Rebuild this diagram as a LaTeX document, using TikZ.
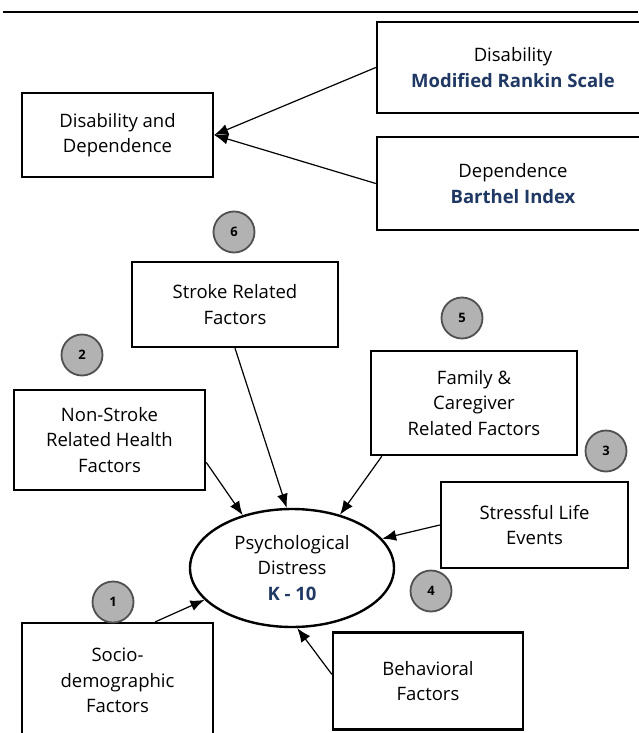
\documentclass[tikz,border=0pt]{standalone}
\usepackage{fontspec}
\setmainfont{Open Sans}
\usetikzlibrary{arrows.meta}
\usetikzlibrary{shapes.geometric}
\definecolor{navy}{RGB}{31,56,100}
\definecolor{badgegray}{RGB}{178,178,178}
\definecolor{badgeline}{RGB}{80,80,80}
\newcommand{\scl}[1]{\textcolor{navy}{\bfseries #1}}

\begin{document}
\begin{tikzpicture}[x=1pt,y=-1pt,
        font=\fontsize{18.5}{25.5}\selectfont,
        box/.style = {draw,line width=2.4pt,fill=white,align=center,
            inner sep=0pt},
        badge/.style = {circle,draw=badgeline,line width=1.8pt,fill=badgegray,
            minimum size=41pt,inner sep=0pt,font=\fontsize{13}{13}\selectfont\bfseries},
        arr/.style = {-{Latex[length=14pt,width=11pt]},line width=1.2pt}]
    \useasboundingbox (0,0) rectangle (638,733);
    \draw[line width=1.5pt] (3,12) -- (638,12);
    % top part
    \node[box,minimum width=272pt,minimum height=91pt](dis) at (513,67.5)
        {Disability\\ \scl{Modified Rankin Scale}};
    \node[box,minimum width=272pt,minimum height=93pt](dep) at (513,183.5)
        {Dependence\\ \scl{Barthel Index}};
    \node[box,minimum width=191pt,minimum height=84pt](dd) at (117.5,135)
        {Disability and\\ Dependence};
    \path[arr]
        (dis.west) edge (dd.east)
        (dep.west) edge (dd.east);
    % factors
    \node[box,ellipse,minimum width=204pt,minimum height=118pt](psy) at (292,568)
        {Psychological\\ Distress\\ \scl{K - 10}};
    \node[box,minimum width=206pt,minimum height=85pt](srf) at (235,304.5)
        {Stroke Related\\ Factors};
    \node[box,minimum width=191pt,minimum height=100pt](nsr) at (109.5,440)
        {Non-Stroke\\ Related Health\\ Factors};
    \node[box,minimum width=206pt,minimum height=104pt](fam) at (474,403)
        {Family \&\\ Caregiver\\ Related Factors};
    \node[box,minimum width=187pt,minimum height=86pt](sle) at (534.5,525)
        {Stressful Life\\ Events};
    \node[box,minimum width=190pt,minimum height=97pt](beh) at (428,681)
        {Behavioral\\ Factors};
    \node[box,minimum width=191pt,minimum height=140pt](soc) at (117.5,693)
        {Socio-\\ demographic\\ Factors\\ \vphantom{X}};
    \path[arr]
        (srf.south) edge (psy.95)
        (nsr.-13) edge (psy.133)
        (fam.210) edge (psy.48)
        (sle.west) edge (psy.18)
        (beh.176) edge (psy.-85)
        (soc.62) edge (psy.200);
    % numbers
    \node[badge](n1) at (113,602) {1};
    \node[badge](n2) at (82,355) {2};
    \node[badge](n3) at (606,451) {3};
    \node[badge](n4) at (431,591) {4};
    \node[badge](n5) at (462,318) {5};
    \node[badge](n6) at (234,232) {6};
\end{tikzpicture}
\end{document}
